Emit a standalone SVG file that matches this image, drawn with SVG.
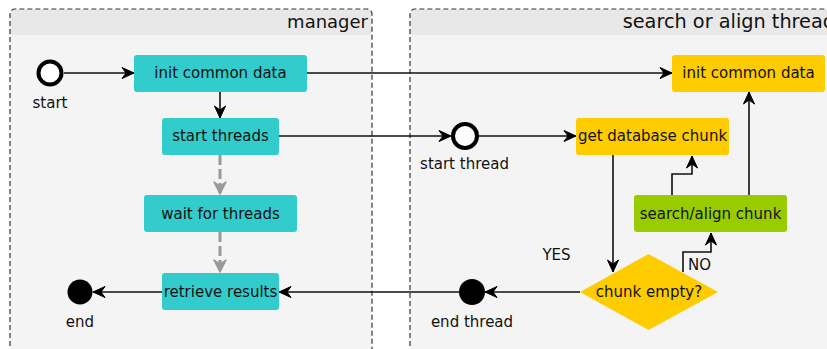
<svg xmlns="http://www.w3.org/2000/svg" width="827" height="349" viewBox="0 0 827 349">
<style>
.body{fill:#f4f4f4}
.head{fill:#e8e8e8}
.border{fill:none;stroke:#333;stroke-width:1.2;stroke-dasharray:5,3}
.title{font-family:"DejaVu Sans",sans-serif;font-size:18px;fill:#111}
.lbl{font-family:"DejaVu Sans",sans-serif;font-size:15px;fill:#111}
.mid{text-anchor:middle}
.teal{fill:#33cccc}
.yel{fill:#ffcc00}
.grn{fill:#99cc00}
.c{fill:none;stroke:#111;stroke-width:1.6}
.g{fill:none;stroke:#999;stroke-width:3;stroke-dasharray:10,4}
.start{fill:#fff;stroke:#000;stroke-width:4}
</style>
<defs>
<marker id="ab" markerUnits="userSpaceOnUse" markerWidth="16" markerHeight="16" viewBox="-2 -8 16 16" refX="12" refY="0" orient="auto">
<path d="M0,-5.5 L12,0 L0,5.5 L4,0 Z" fill="#000" stroke="#000" stroke-width="1"/>
</marker>
<marker id="ag" markerUnits="userSpaceOnUse" markerWidth="18" markerHeight="18" viewBox="-3 -9 18 18" refX="12" refY="0" orient="auto">
<path d="M0,-6 L12,0 L0,6 L4,0 Z" fill="#999" stroke="#999" stroke-width="1.5" stroke-linejoin="round"/>
</marker>
</defs>
<g id="lane-manager">
<rect class="body" x="10" y="9" width="362" height="350" rx="5"/>
<rect class="head" x="10.6" y="9.6" width="360.8" height="25.4"/>
<path class="border" d="M10,354 V14 a5,5 0 0 1 5,-5 H367 a5,5 0 0 1 5,5 V354"/>
<text class="title" x="368" y="28" text-anchor="end">manager</text>
</g>
<g id="lane-thread">
<rect class="body" x="410" y="9" width="430" height="350" rx="5"/>
<rect class="head" x="410.6" y="9.6" width="420" height="25.4"/>
<path class="border" d="M410,354 V14 a5,5 0 0 1 5,-5 H840"/>
<text class="title" x="622.7" y="28" style="font-size:19.3px">search or align thread</text>
</g>
<g id="connectors">
<line class="c" x1="64" y1="73" x2="134" y2="73" marker-end="url(#ab)"/>
<line class="c" x1="307" y1="73" x2="672" y2="73" marker-end="url(#ab)"/>
<line class="c" x1="220" y1="92" x2="220" y2="118" marker-end="url(#ab)"/>
<line class="g" x1="220" y1="155" x2="220" y2="194" marker-end="url(#ag)"/>
<line class="g" x1="220" y1="232" x2="220" y2="272" marker-end="url(#ag)"/>
<line class="c" x1="279" y1="136" x2="451" y2="136" marker-end="url(#ab)"/>
<line class="c" x1="478" y1="136" x2="576" y2="136" marker-end="url(#ab)"/>
<line class="c" x1="613" y1="155" x2="613" y2="272" marker-end="url(#ab)"/>
<polyline class="c" points="683,272 683,252 711,252 711,233" marker-end="url(#ab)"/>
<polyline class="c" points="672,195 672,174 692,174 692,156" marker-end="url(#ab)"/>
<line class="c" x1="749" y1="195" x2="749" y2="92" marker-end="url(#ab)"/>
<line class="c" x1="580" y1="292" x2="485" y2="292" marker-end="url(#ab)"/>
<line class="c" x1="459" y1="292" x2="279" y2="292" marker-end="url(#ab)"/>
<line class="c" x1="162" y1="292" x2="93" y2="292" marker-end="url(#ab)"/>
<text class="lbl mid" x="556.5" y="260">YES</text>
<text class="lbl" x="688" y="270">NO</text>
</g>
<g id="start">
<circle class="start" cx="50" cy="73" r="11.5"/>
<text class="lbl mid" x="50" y="108">start</text>
</g>
<g id="init-common-data-m">
<rect class="teal" x="134" y="55" width="173" height="37" rx="3"/>
<text class="lbl mid" x="220.5" y="78">init common data</text>
</g>
<g id="start-threads">
<rect class="teal" x="162" y="118" width="117" height="37" rx="3"/>
<text class="lbl mid" x="220.5" y="141">start threads</text>
</g>
<g id="wait-for-threads">
<rect class="teal" x="144" y="195" width="153" height="37" rx="3"/>
<text class="lbl mid" x="220.5" y="219">wait for threads</text>
</g>
<g id="retrieve-results">
<rect class="teal" x="162" y="273" width="117" height="37" rx="3"/>
<text class="lbl mid" x="220.5" y="297">retrieve results</text>
</g>
<g id="end">
<circle cx="80" cy="292" r="12.5" fill="#000"/>
<text class="lbl mid" x="80" y="327">end</text>
</g>
<g id="init-common-data-t">
<rect class="yel" x="672" y="55" width="153" height="37" rx="3"/>
<text class="lbl mid" x="748.5" y="78">init common data</text>
</g>
<g id="start-thread">
<circle class="start" cx="465" cy="136" r="12"/>
<text class="lbl mid" x="464.5" y="169">start thread</text>
</g>
<g id="get-database-chunk">
<rect class="yel" x="576" y="118" width="153" height="37" rx="3"/>
<text class="lbl mid" x="652.5" y="141">get database chunk</text>
</g>
<g id="search-align-chunk">
<rect class="grn" x="634" y="195" width="153" height="37" rx="3"/>
<text class="lbl mid" x="710.5" y="219">search/align chunk</text>
</g>
<g id="chunk-empty">
<polygon class="yel" points="580,292 648.5,254 718,292 648.5,330"/>
<text class="lbl mid" x="649" y="297">chunk empty?</text>
</g>
<g id="end-thread">
<circle cx="472" cy="292" r="13" fill="#000"/>
<text class="lbl mid" x="472" y="327">end thread</text>
</g>
</svg>
